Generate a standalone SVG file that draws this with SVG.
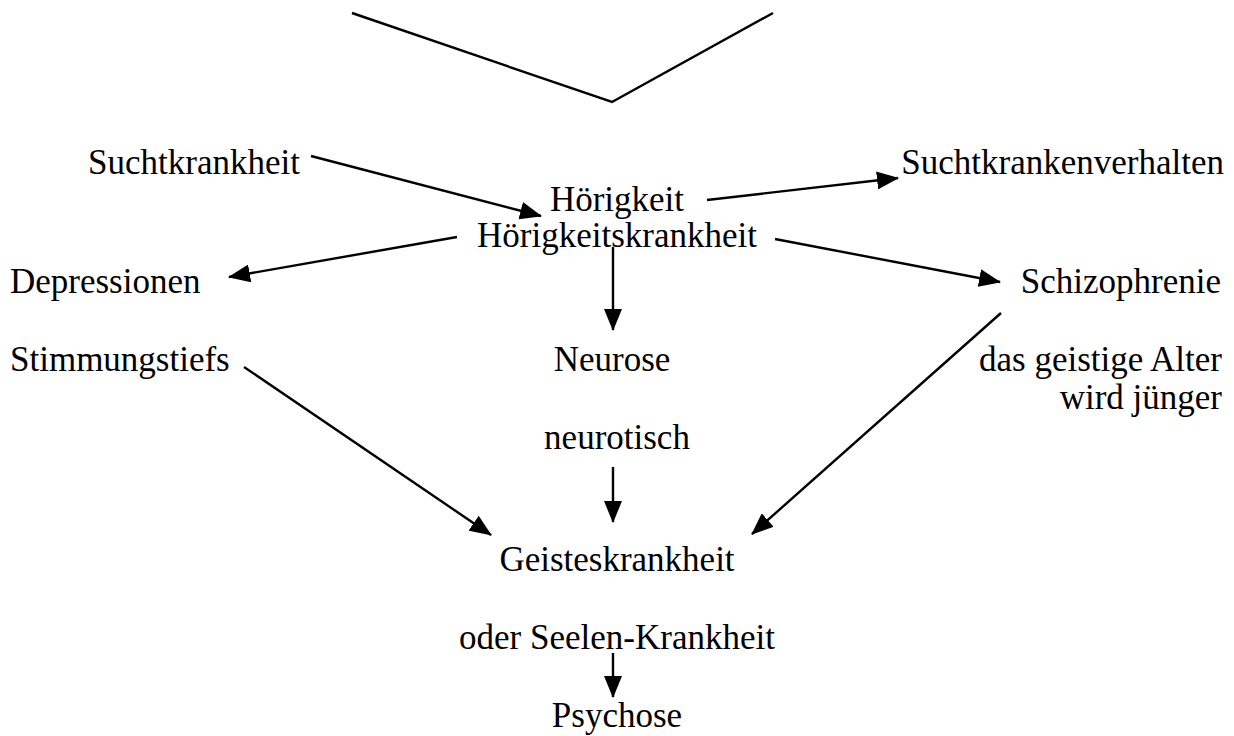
<svg xmlns="http://www.w3.org/2000/svg" width="1234" height="736" viewBox="0 0 1234 736">
<style>
text{font-family:"Liberation Serif","Times New Roman",serif;font-size:35px;fill:#000}
.m{text-anchor:middle}
.e{text-anchor:end}
.c{stroke:#000;stroke-width:2.4;fill:none}
.a{marker-end:url(#ah)}
</style>
<defs>
<marker id="ah" markerUnits="userSpaceOnUse" markerWidth="22" markerHeight="18" viewBox="0 0 22 18" refX="21" refY="9" orient="auto">
<path d="M0,0 L22,9 L0,18 z" fill="#000"/>
</marker>
</defs>
<rect width="1234" height="736" fill="#fff"/>
<g id="connectors">
<polyline class="c" points="352,13 612,102 773,13"/>
<line class="c a" x1="311" y1="156" x2="541" y2="216"/>
<line class="c a" x1="707" y1="200" x2="898" y2="178"/>
<line class="c a" x1="457" y1="237" x2="229" y2="277"/>
<line class="c a" x1="775" y1="239" x2="1000" y2="282"/>
<line class="c a" x1="613" y1="247" x2="613" y2="330"/>
<line class="c a" x1="244" y1="367" x2="491" y2="535"/>
<line class="c a" x1="613" y1="467" x2="613" y2="522"/>
<line class="c a" x1="1001" y1="313" x2="752" y2="534"/>
<line class="c a" x1="613" y1="653" x2="613" y2="697"/>
</g>
<g id="n-suchtkrankheit"><text x="88" y="174">Suchtkrankheit</text></g>
<g id="n-hoerigkeit"><text class="m" x="617" y="211">Hörigkeit</text><text class="m" x="617" y="247">Hörigkeitskrankheit</text></g>
<g id="n-suchtkrankenverhalten"><text class="e" x="1224" y="174">Suchtkrankenverhalten</text></g>
<g id="n-depressionen"><text x="10" y="293">Depressionen</text></g>
<g id="n-schizophrenie"><text class="e" x="1221" y="293">Schizophrenie</text></g>
<g id="n-stimmungstiefs"><text x="10" y="371">Stimmungstiefs</text></g>
<g id="n-neurose"><text class="m" x="612" y="371">Neurose</text></g>
<g id="n-alter"><text class="e" x="1222" y="371">das geistige Alter</text><text class="e" x="1222" y="409">wird jünger</text></g>
<g id="n-neurotisch"><text class="m" x="617" y="449">neurotisch</text></g>
<g id="n-geisteskrankheit"><text class="m" x="617" y="571">Geisteskrankheit</text></g>
<g id="n-seelenkrankheit"><text class="m" x="617" y="649">oder Seelen-Krankheit</text></g>
<g id="n-psychose"><text class="m" x="617" y="727">Psychose</text></g>
</svg>
